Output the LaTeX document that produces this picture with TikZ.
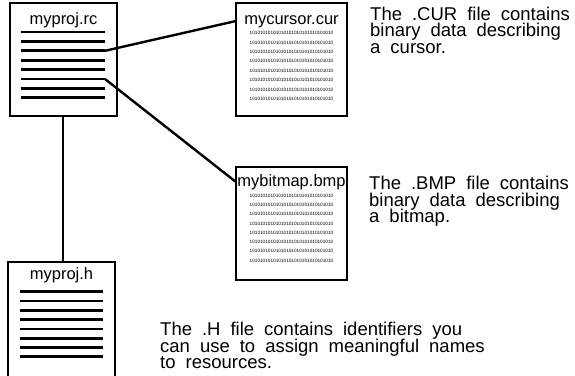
\documentclass[tikz,border=0pt]{standalone}
\usepackage{fontspec}
\setmainfont{Liberation Sans}
\begin{document}
\begin{tikzpicture}[x=1pt,y=-1pt,
  docbox/.style={draw, line width=2.4pt, fill=white, inner sep=0pt},
  bar/.style={line width=2.8pt},
  wire/.style={line width=2.4pt},
  title/.style={inner sep=0pt, anchor=base, font=\fontsize{16.5}{17}\selectfont},
  bin/.style={inner sep=0pt, anchor=center, font=\fontsize{4.7}{5}\selectfont},
  body/.style={inner sep=0pt, anchor=north west, align=left,
    font=\fontsize{18.5}{16.5}\selectfont,
    execute at begin node={\spaceskip=10pt\relax\lineskiplimit=-30pt\relax}}
]
\useasboundingbox (0,0) rectangle (575,375);
\clip (0,0) rectangle (575,375);

% boxes
\node[docbox, minimum width=107pt, minimum height=113pt] (rc) at (63.5,59.5) {};
\node[docbox, minimum width=111pt, minimum height=113pt] (cur) at (291.5,59.5) {};
\node[docbox, minimum width=111pt, minimum height=113pt] (bmp) at (291.5,223.5) {};
\node[docbox, minimum width=107pt, minimum height=120pt] (hh) at (61.5,322) {};

% titles
\node[title] (rct) at (63.5,24.5) {myproj.rc};
\node[title] (curt) at (291.5,24.5) {mycursor.cur};
\node[title] (bmpt) at (291.5,186.5) {mybitmap.bmp};
\node[title] (hht) at (61.5,279.5) {myproj.h};

% bars
\foreach \y in {32,41.4,50.8,60.2,69.6,79,88.4,97.8} {
  \draw[bar] (21,\y) -- (105,\y);
}
\foreach \y in {291.7,301,310.3,319.6,328.9,338.2,347.5,356.8} {
  \draw[bar] (20,\y) -- (103,\y);
}

% binary data
\foreach \i in {0,...,7} {
  \node[bin] (cb\i) at (291.5,{33+9.4*\i}) {10101010101010101010101010101010};
  \node[bin] (bb\i) at (291.5,{195.5+9.3*\i}) {10101010101010101010101010101010};
}

% connectors
\coordinate (rcA) at (105,50.8);
\coordinate (rcB) at (105,79);
\coordinate (curIn) at (236,21);
\coordinate (bmpIn) at (236,182);
\draw[wire] (rcA) -- (curIn);
\draw[wire] (rcB) -- (bmpIn);
\draw[wire] (rc.south -| 63,0) -- (hh.north -| 63,0);

% descriptions (first baseline = y + 14)
\node[body] (curtxt) at (370,6) {\rule{0pt}{14pt}The .CUR file contains\\binary data describing\\a cursor.};
\node[body] (bmptxt) at (369,175.5) {\rule{0pt}{14pt}The .BMP file contains\\binary data describing\\a bitmap.};
\node[body] (hhtxt) at (160,321.5) {\rule{0pt}{14pt}The .H file contains identifiers you\\can use to assign meaningful names\\to resources.};
\end{tikzpicture}
\end{document}
